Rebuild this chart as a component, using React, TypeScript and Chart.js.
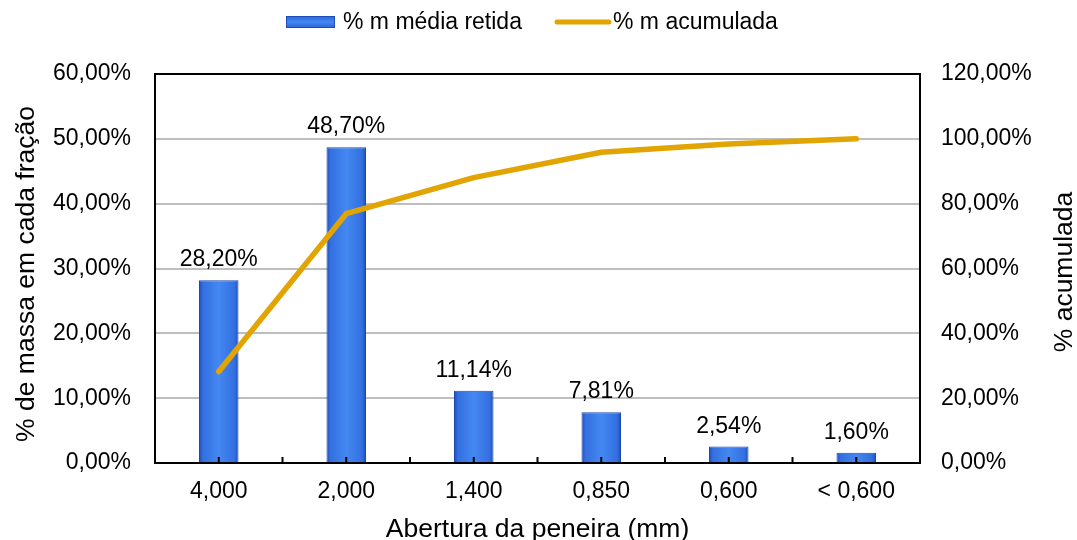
import React, { useEffect, useRef } from "react";
import { Chart, registerables } from "chart.js";

Chart.register(...registerables);

// Sieve openings and measured fractions
const aberturas = ["4,000", "2,000", "1,400", "0,850", "0,600", "< 0,600"];
const massaRetida = [28.2, 48.7, 11.14, 7.81, 2.54, 1.6];
const massaAcumulada = [28.2, 76.9, 88.04, 95.85, 98.39, 99.99];

const leftTicks = [0, 10, 20, 30, 40, 50, 60];
const rightTicks = [0, 20, 40, 60, 80, 100, 120];

const serieBarras = "% m média retida";
const serieLinha = "% m acumulada";
const tituloX = "Abertura da peneira (mm)";
const tituloYEsq = "% de massa em cada fração";
const tituloYDir = "% acumulada";

const FONT = "'Liberation Sans', Arial, sans-serif";
const TICK_SIZE = 23;
const TITLE_SIZE = 26.5;
const BAR_BLUE = "#3F80EE";
const LINE_GOLD = "#E2A400";

const fmtPct = (v: number) => v.toFixed(2).replace(".", ",") + "%";

function barGradient(chart: any, index: number) {
  const xs = chart.scales?.x;
  const ctx = chart.ctx;
  if (!xs || typeof index !== "number") return BAR_BLUE;
  const cx = xs.getPixelForValue(index);
  const w = (xs.width / aberturas.length) * 0.31;
  if (!isFinite(cx) || !isFinite(w) || w <= 0) return BAR_BLUE;
  const g = ctx.createLinearGradient(cx - w / 2, 0, cx + w / 2, 0);
  g.addColorStop(0, "#1E4DBA");
  g.addColorStop(0.1, "#336FE0");
  g.addColorStop(0.5, "#4488F2");
  g.addColorStop(0.9, "#336FE0");
  g.addColorStop(1, "#1E4DBA");
  return g;
}

function verticalText(ctx: any, text: string, x: number, y: number) {
  ctx.save();
  ctx.translate(x, y);
  ctx.rotate(-Math.PI / 2);
  ctx.textAlign = "center";
  ctx.textBaseline = "middle";
  ctx.font = `${TITLE_SIZE}px ${FONT}`;
  ctx.fillStyle = "#000";
  ctx.fillText(text, 0, 0);
  ctx.restore();
}

// Frame, inner ticks, value labels, legend and axis titles
const decorPlugin = {
  id: "decor",
  afterDatasetsDraw(chart: any) {
    const { ctx, chartArea } = chart;
    const xs = chart.scales.x;
    ctx.save();

    // inward tick marks on the category axis
    ctx.strokeStyle = "#000";
    ctx.lineWidth = 2;
    const n = aberturas.length;
    const step = xs.width / n;
    for (let i = 0; i < n; i++) {
      const c = xs.getPixelForValue(i);
      ctx.beginPath();
      ctx.moveTo(c, chartArea.bottom);
      ctx.lineTo(c, chartArea.bottom - 6);
      ctx.stroke();
      if (i > 0) {
        const b = c - step / 2;
        ctx.beginPath();
        ctx.moveTo(b, chartArea.bottom);
        ctx.lineTo(b, chartArea.bottom - 6);
        ctx.stroke();
      }
    }

    // plot frame
    ctx.lineWidth = 2;
    ctx.strokeRect(chartArea.left, chartArea.top, chartArea.right - chartArea.left, chartArea.bottom - chartArea.top);

    // value labels above bars
    const meta = chart.getDatasetMeta(1);
    ctx.fillStyle = "#000";
    ctx.font = `${TICK_SIZE}px ${FONT}`;
    ctx.textAlign = "center";
    ctx.textBaseline = "alphabetic";
    meta.data.forEach((bar: any, i: number) => {
      ctx.fillText(fmtPct(massaRetida[i]), bar.x, bar.y - 14);
    });

    // legend
    ctx.font = `${TICK_SIZE}px ${FONT}`;
    ctx.textAlign = "left";
    ctx.textBaseline = "middle";
    const ly = 22;
    const g = ctx.createLinearGradient(0, ly - 6, 0, ly + 6);
    g.addColorStop(0, "#2C62D6");
    g.addColorStop(0.5, "#4488F2");
    g.addColorStop(1, "#2C62D6");
    ctx.fillStyle = g;
    ctx.fillRect(286, ly - 6, 49, 12);
    ctx.strokeStyle = "#1E4DBA";
    ctx.lineWidth = 1;
    ctx.strokeRect(286.5, ly - 5.5, 48, 11);
    ctx.fillStyle = "#000";
    ctx.fillText(serieBarras, 343, ly + 1);
    ctx.strokeStyle = LINE_GOLD;
    ctx.lineWidth = 5;
    ctx.lineCap = "round";
    ctx.beginPath();
    ctx.moveTo(557, ly);
    ctx.lineTo(609, ly);
    ctx.stroke();
    ctx.fillText(serieLinha, 613, ly + 1);

    // vertical axis titles, both reading bottom-to-top
    verticalText(ctx, tituloYEsq, 27, 274);
    verticalText(ctx, tituloYDir, 1065, 272);

    ctx.restore();
  },
};

export default function App() {
  const ref = useRef<HTMLCanvasElement>(null);

  useEffect(() => {
    if (!ref.current) return;
    const chart = new Chart(ref.current, {
      type: "bar",
      data: {
        labels: aberturas,
        datasets: [
          {
            type: "line",
            label: serieLinha,
            data: massaAcumulada,
            yAxisID: "y2",
            borderColor: LINE_GOLD,
            borderWidth: 5.5,
            borderCapStyle: "round",
            borderJoinStyle: "round",
            pointRadius: 0,
            tension: 0,
            order: 0,
          } as any,
          {
            type: "bar",
            label: serieBarras,
            data: massaRetida,
            yAxisID: "y",
            backgroundColor: (c: any) => barGradient(c.chart, c.dataIndex),
            borderColor: "#1E48B0",
            borderWidth: 1,
            barPercentage: 0.31,
            categoryPercentage: 1,
            order: 1,
          } as any,
        ],
      },
      options: {
        responsive: false,
        animation: false,
        layout: { padding: { top: 74, left: 0, right: 0, bottom: 0 } },
        plugins: {
          legend: { display: false },
          tooltip: { enabled: false },
        },
        scales: {
          x: {
            offset: true,
            grid: { display: false, drawTicks: false },
            border: { display: false },
            ticks: { color: "#000", font: { size: TICK_SIZE, family: FONT }, padding: 15 },
            title: {
              display: true,
              text: tituloX,
              color: "#000",
              font: { size: TITLE_SIZE, family: FONT },
              padding: { top: 0, bottom: -6 },
            },
            afterFit: (s: any) => { s.height = 77; },
          },
          y: {
            position: "left",
            min: 0,
            max: 60,
            afterBuildTicks: (s: any) => { s.ticks = leftTicks.map((v) => ({ value: v })); },
            grid: {
              color: (c: any) => (c.tick && (c.tick.value === 0 || c.tick.value === 60) ? "rgba(0,0,0,0)" : "#BEBEBE"),
              lineWidth: 2,
              drawTicks: false,
            },
            border: { display: false },
            ticks: {
              color: "#000",
              font: { size: TICK_SIZE, family: FONT },
              padding: 24,
              callback: (v: any) => fmtPct(Number(v)),
            },
            afterFit: (s: any) => { s.width = 155; },
          },
          y2: {
            position: "right",
            min: 0,
            max: 120,
            afterBuildTicks: (s: any) => { s.ticks = rightTicks.map((v) => ({ value: v })); },
            grid: { display: false, drawTicks: false },
            border: { display: false },
            ticks: {
              color: "#000",
              font: { size: TICK_SIZE, family: FONT },
              padding: 21,
              callback: (v: any) => fmtPct(Number(v)),
            },
            afterFit: (s: any) => { s.width = 157; },
          },
        },
      },
      plugins: [decorPlugin],
    });
    return () => chart.destroy();
  }, []);

  return (
    <canvas
      ref={ref}
      width={1077}
      height={540}
      style={{ position: "fixed", left: 0, top: 0, width: 1077, height: 540, display: "block", background: "#fff" }}
    />
  );
}
